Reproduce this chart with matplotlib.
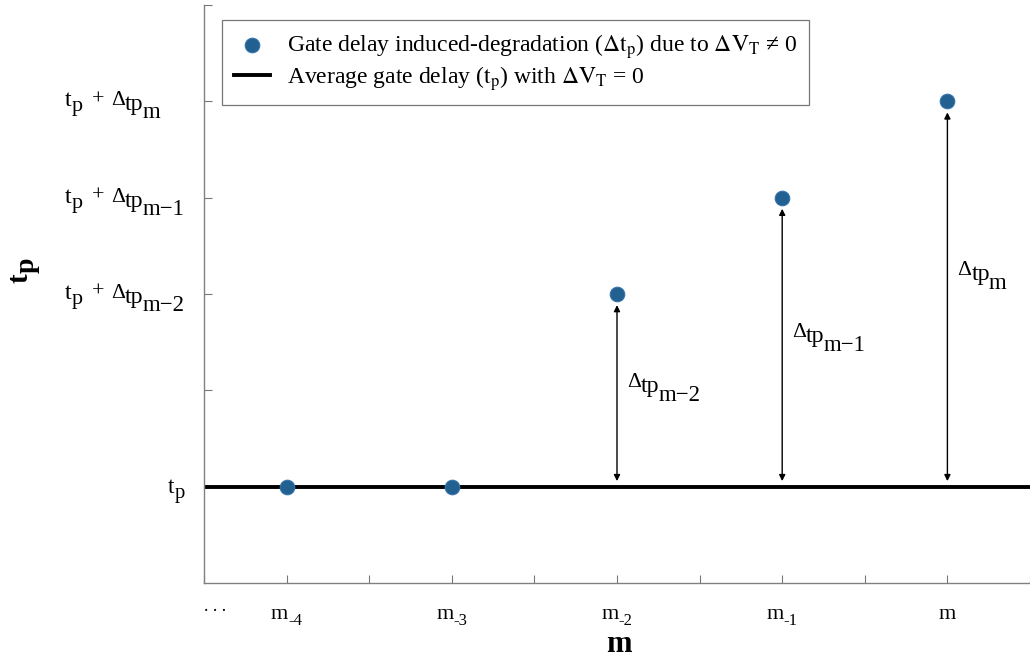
import numpy as np
import matplotlib.pyplot as plt
from matplotlib.font_manager import FontProperties

plt.rcParams['font.family'] = ['Liberation Serif', 'DejaVu Serif']
plt.rcParams['mathtext.fontset'] = 'stix'

# data
m_pos = [1, 2, 3, 4, 5]
tp_vals = [1, 1, 3, 4, 5]
tp_base = 1
m_subs = ['-4', '-3', '-2', '-1', '']
ytick_vals = [1, 2, 3, 4, 5, 6]
ytick_subs = {3: 'm\u22122', 4: 'm\u22121', 5: 'm'}
delta_idx = [2, 3, 4]
delta_subs = ['m\u22122', 'm\u22121', 'm']
delta_label_y = [2.03, 2.55, 3.2]

DPI = 100
fig = plt.figure(figsize=(10.3, 6.64), dpi=DPI)
ax = fig.add_axes([204 / 1030, 81 / 664, 826 / 1030, 578 / 664])
renderer = fig.canvas.get_renderer()


def rich(xy, coords, pieces, size, ha='left', rotation=0, weight='normal', off=(0, 0)):
    """Draw text made of pieces (text, scale, drop_px, gap_px) side by side,
    so sub- and sub-sub-scripts can be sized and lowered freely."""
    widths = []
    for txt, sc, drop, gap in pieces:
        fp = FontProperties(family=plt.rcParams['font.family'], size=size * sc, weight=weight)
        w, _, _ = renderer.get_text_width_height_descent(txt, fp, ismath=False)
        widths.append(w)
    total = sum(widths) + sum(p[3] for p in pieces)
    pos = {'left': 0, 'center': -total / 2, 'right': -total}[ha]
    for (txt, sc, drop, gap), w in zip(pieces, widths):
        pos += gap
        along, down = off[0] + pos, off[1] + drop
        if rotation == 0:
            dx, dy = along, -down
        else:
            dx, dy = down, along
        ax.annotate(txt, xy=xy, xycoords=coords, xytext=(dx * 72 / DPI, dy * 72 / DPI),
                    textcoords='offset points', fontsize=size * sc, fontweight=weight,
                    ha='left', va='baseline', rotation=rotation, rotation_mode='anchor',
                    annotation_clip=False)
        pos += w


line, = ax.plot([0.5, 5.5], [tp_base, tp_base], color='black', lw=2.8, zorder=2,
                label='Average gate delay ($\\mathrm{t_p}$) with $\\mathrm{\\Delta V_T}$ = 0')
pts = ax.scatter(m_pos, tp_vals, s=110, color='#22608f', edgecolors='#3572ad', linewidths=0.8, zorder=4,
                 label='Gate delay induced-degradation ($\\mathrm{\\Delta t_p}$) due to $\\mathrm{\\Delta V_T}$ \u2260 0')

# double arrows + delta labels
for i, sub, ly in zip(delta_idx, delta_subs, delta_label_y):
    ax.annotate('', xy=(m_pos[i], tp_vals[i]), xytext=(m_pos[i], tp_base),
                arrowprops=dict(arrowstyle='<|-|>', color='black', lw=1.0,
                                mutation_scale=9, shrinkA=4, shrinkB=8))
    rich((m_pos[i], ly), 'data',
         [('\u0394', 0.9, 0, 0), ('tp', 1.0, 5, 0), (sub, 0.95, 14, -1)],
         17.3, off=(10, 0))

ax.set_xlim(0.5, 5.476)
ax.set_ylim(0, 6)
ax.set_xticks(np.arange(0.5, 5.6, 0.5))
ax.set_xticklabels([])
ax.set_yticks(ytick_vals)
ax.set_yticklabels([])
ax.tick_params(axis='both', direction='in', length=6, width=0.8, color='#777777')

# x tick labels
for x, sub in zip(m_pos, m_subs):
    rich((x, 0), 'data', [('m', 1.0, 0, 0), (sub, 0.75, 6, 0)], 16, ha='center', off=(0, 36))
rich((0.5, 0), 'data', [('. . .', 1.0, 0, 0)], 13, ha='center', off=(11, 28))

# y tick labels
ytrans = ax.get_yaxis_transform()
rich((0, ytick_vals[0]), ytrans, [('t', 1.0, 0, 0), ('p', 0.9, 5, 0)], 16.5, off=(-36, 6))
for yv, sub in ytick_subs.items():
    rich((0, yv), ytrans,
         [('t', 1.0, 1, 0), ('p', 0.92, 6, 0), ('+', 0.92, -1, 9), ('\u0394', 0.9, 0, 7),
          ('tp', 1.0, 5, 0), (sub, 0.95, 13, -1)],
         17.3, off=(-139, 4))

for s in ['top', 'right']:
    ax.spines[s].set_visible(False)
for s in ['left', 'bottom']:
    ax.spines[s].set_color('#808080')
    ax.spines[s].set_linewidth(1.0)

# axis labels
ax.annotate('m', xy=(619 / 1030, 12 / 664), xycoords='figure fraction', fontsize=22,
            fontweight='bold', ha='center', va='baseline')
rich((27, 664 - 283), 'figure pixels', [('t', 1.0, 0, 0), ('p', 0.95, 7, 0)], 21,
     rotation=90, weight='bold')

leg = ax.legend(handles=[pts, line], loc='upper left', bbox_to_anchor=(18 / 826, 1 - 15 / 578),
                borderaxespad=0, fontsize=17, frameon=True, fancybox=False, edgecolor='#555555',
                handlelength=1.55, handletextpad=0.7, borderpad=0.5, labelspacing=0.15)
leg.get_frame().set_linewidth(0.9)

fig.savefig('out.png', dpi=DPI)
